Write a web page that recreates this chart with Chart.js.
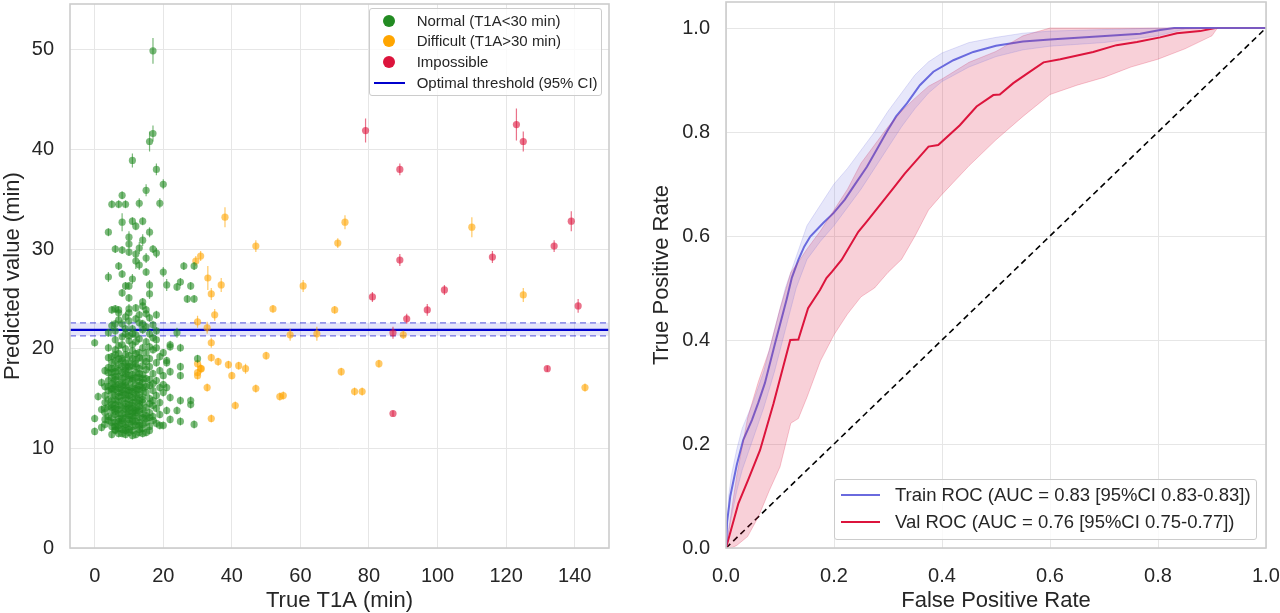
<!DOCTYPE html>
<html>
<head>
<meta charset="utf-8">
<title>T1A prediction and ROC</title>
<script src="https://cdn.jsdelivr.net/npm/chart.js@4.4.1/dist/chart.umd.min.js"></script>
<style>
  html, body { margin: 0; padding: 0; background: #fff; }
  body { width: 1280px; height: 613px; position: relative; overflow: hidden;
         font-family: "Liberation Sans", Arial, sans-serif; color: #262626; }
  canvas { position: absolute; top: 0; }
  #scatterChart { left: 0; }
  #rocChart { left: 640px; }
  .legend { position: absolute; box-sizing: border-box; background: rgba(255,255,255,0.8);
            border: 1px solid #cccccc; border-radius: 3px; }
  .legend .mark, .legend .label { position: absolute; }
  .legend .label { white-space: nowrap; }
</style>
</head>
<body>
<canvas id="scatterChart" width="640" height="613"></canvas>
<canvas id="rocChart" width="640" height="613"></canvas>
<div id="scatterLegend" class="legend" style="left:369px; top:8px; width:233px; height:88px; font-size:15px;"></div>
<div id="rocLegend" class="legend" style="left:834px; top:479px; width:423px; height:61px; font-size:18.5px;"></div>

<script>
// ───────────── data: left panel (true T1A vs predicted, [min, min, error]) ─────────────
const normalPoints = [
  [17,49.9,1.3],[17,41.6,0.8],[16,40.8,1.0],[11,38.9,0.7],[18,38.0,0.6],[20,36.5,0.5],[15,35.9,0.6],
  [8,35.4,0.4],[5,34.5,0.4],[7,34.5,0.4],[9,34.5,0.4],[13,34.6,0.5],[19,34.6,0.5],[8,32.7,0.9],
  [11,32.8,0.4],[14,32.8,0.4],[12,32.3,0.4],[4,31.7,0.4],[16,31.7,0.5],[10,31.2,0.6],[14,30.9,0.6],
  [10,30.5,0.4],[6,30.0,0.4],[8,29.9,0.4],[10,29.7,0.4],[13,30.1,0.6],[17,30.0,0.4],[18,29.6,0.5],
  [12,29.5,0.4],[15,29.1,0.5],[12,28.8,0.8],[13,28.4,0.5],[7,28.3,0.4],[20,27.7,0.5],[26,28.3,0.4],
  [29,28.3,0.4],[4,27.2,0.5],[8,27.5,0.4],[11,27.0,0.5],[15,27.7,0.4],[9,26.3,0.4],[10,26.3,0.4],
  [16,26.4,0.5],[21,26.4,0.6],[24,26.2,0.4],[25,26.7,0.4],[28,26.3,0.4],[8,25.6,0.4],[16,25.5,0.5],
  [10,25.1,0.4],[27,25.0,0.4],[29,25.0,0.4],[14,24.7,0.4],[6,24.0,0.4],[7,23.9,0.4],[10,24.0,0.5],
  [12,24.1,0.4],[15,23.9,0.4],[14,24.3,0.4],[5,23.9,0.4],[18,23.4,0.4],[7,23.6,0.4],[10,23.6,0.4],
  [15,23.5,0.4],
  [24,21.6,0.5],[0,20.6,0.4],[4,20.1,0.4],[4,21.6,0.4],[22,20.4,0.4],[25,20.1,0.4],[4,19.1,0.4],
  [4,18.1,0.4],[7,19.5,0.4],[11,19.8,0.4],[14,20.1,0.4],[17,19.9,0.4],[20,19.6,0.4],[21,18.6,0.4],
  [22,20.2,0.4],[30,19.0,0.4],[25,18.2,0.4],[25,17.3,0.4],[21,18.8,0.4],[22,17.7,0.4],[21,16.1,0.4],
  [19,16.1,0.4],[22,15.1,0.4],[25,14.8,0.4],[28,14.8,0.4],[28,14.4,0.4],[24,13.8,0.4],[21,13.8,0.4],
  [22,12.9,0.4],[25,12.7,0.4],[29,12.4,0.4],[20,12.3,0.4],[19,12.3,0.4],[15,11.6,0.4],[11,11.3,0.4],
  [9,11.4,0.4],[3,17.8,0.4],[2,16.6,0.4],[1,15.2,0.4],[0,13.0,0.4],[0,11.7,0.4],
  [5,22.3,0.5],[6,21.8,0.4],[8,22.5,0.5],[9,21.5,0.4],[10,22.8,0.6],[11,22.0,0.4],[12,21.4,0.4],
  [13,22.6,0.5],[14,21.9,0.4],[15,22.2,0.4],[16,21.5,0.4],[17,22.4,0.4],[18,21.8,0.4],[7,22.9,0.4],
  [9,23.2,0.5],[12,23.0,0.4],[16,23.1,0.4],[13,21.0,0.4],[8,21.2,0.4],[10,20.8,0.4],[6,20.9,0.4],
  [15,20.7,0.4],[18,20.9,0.4],[11,20.4,0.4],[7,20.3,0.4],
  [5,19.2,0.4],[6,18.8,0.4],[8,19.0,0.4],[9,18.6,0.4],[10,19.3,0.4],[12,18.9,0.4],[13,19.1,0.4],
  [15,18.7,0.4],[16,19.0,0.4],[18,18.6,0.4],[19,19.2,0.4],[6,19.9,0.4],[9,20.0,0.4],[12,19.5,0.4],
  [15,19.6,0.4],[18,20.1,0.4],
  [4,17.6,0.4],[5,18.0,0.4],[7,17.8,0.4],[8,18.2,0.4],[9,17.5,0.4],[10,17.9,0.4],[11,18.3,0.4],
  [12,17.6,0.4],[13,18.0,0.4],[14,17.4,0.4],[15,17.9,0.4],[16,18.2,0.4],[17,17.5,0.4],[19,17.8,0.4],
  [20,17.3,0.4],[6,17.2,0.4],
  [4,16.8,0.4],[5,16.5,0.4],[6,16.9,0.4],[7,16.4,0.4],[8,17.0,0.4],[9,16.6,0.4],[10,16.2,0.4],
  [11,16.8,0.4],[12,16.4,0.4],[13,17.1,0.4],[14,16.6,0.4],[15,16.2,0.4],[16,16.9,0.4],[17,16.5,0.4],
  [18,16.8,0.4],[20,16.4,0.4],[3,16.2,0.4],
  [3,15.3,0.4],[4,15.8,0.4],[5,15.5,0.4],[6,15.9,0.4],[7,15.2,0.4],[8,15.6,0.4],[9,15.9,0.4],
  [10,15.3,0.4],[11,15.7,0.4],[12,15.4,0.4],[13,15.9,0.4],[14,15.2,0.4],[15,15.6,0.4],[16,15.0,0.4],
  [17,15.8,0.4],[18,15.3,0.4],[20,15.6,0.4],[6,14.9,0.4],
  [3,14.6,0.4],[4,14.2,0.4],[5,14.8,0.4],[6,14.4,0.4],[7,14.7,0.4],[8,14.1,0.4],[9,14.5,0.4],
  [10,14.9,0.4],[11,14.3,0.4],[12,14.7,0.4],[13,14.2,0.4],[14,14.6,0.4],[15,14.1,0.4],[16,14.5,0.4],
  [17,14.3,0.4],[18,14.0,0.4],[19,14.6,0.4],[9,15.0,0.4],
  [3,13.6,0.4],[4,13.2,0.4],[5,13.8,0.4],[6,13.4,0.4],[7,13.0,0.4],[8,13.5,0.4],[9,13.1,0.4],
  [10,13.7,0.4],[11,13.3,0.4],[12,13.8,0.4],[13,13.1,0.4],[14,13.5,0.4],[15,13.0,0.4],[16,13.6,0.4],
  [17,13.2,0.4],[19,13.4,0.4],[2,13.9,0.4],
  [3,12.4,0.4],[4,12.8,0.4],[5,12.2,0.4],[6,12.6,0.4],[7,12.3,0.4],[8,12.8,0.4],[9,12.1,0.4],
  [10,12.5,0.4],[11,12.2,0.4],[12,12.7,0.4],[13,12.3,0.4],[14,12.0,0.4],[15,12.6,0.4],[16,12.2,0.4],
  [17,12.8,0.4],[18,12.5,0.4],[2,12.1,0.4],
  [6,11.8,0.4],[7,11.5,0.4],[8,11.9,0.4],[10,11.6,0.4],[12,11.4,0.4],[13,11.9,0.4],[14,11.5,0.4],
  [16,11.8,0.4],[5,11.4,0.4],
  [5,17.1,0.4],[6,16.2,0.4],[7,18.4,0.4],[8,16.6,0.4],[9,17.2,0.4],[10,18.6,0.4],[11,17.4,0.4],
  [12,16.0,0.4],[13,16.7,0.4],[14,18.3,0.4],[7,15.6,0.4],[8,14.8,0.4],[9,16.3,0.4],[10,14.4,0.4],
  [11,15.1,0.4],[12,14.0,0.4],[13,14.8,0.4],[14,15.9,0.4],[6,13.7,0.4],[7,13.9,0.4],[8,12.5,0.4],
  [9,13.9,0.4],[10,12.9,0.4],[11,14.6,0.4],[12,13.3,0.4],[13,12.6,0.4],[14,13.9,0.4],[8,17.6,0.4],
  [9,19.4,0.4],[10,16.9,0.4],[11,19.0,0.4],[12,18.2,0.4],[13,19.6,0.4],[7,19.0,0.4],[6,18.1,0.4],
  [5,16.0,0.4],[4,14.9,0.4],[5,13.1,0.4],[6,11.9,0.4],[9,11.8,0.4],[11,12.7,0.4],[15,13.3,0.4],
  [15,17.0,0.4],[16,16.3,0.4],[16,13.1,0.4],[17,14.8,0.4],[8,15.3,0.4],[10,15.8,0.4],[12,15.1,0.4],
  [13,15.4,0.4],[9,14.2,0.4],[11,13.6,0.4],[7,12.7,0.4],[10,17.3,0.4],[14,16.1,0.4],[6,15.3,0.4],
  [5,14.4,0.4],[4,16.2,0.4],[3,14.0,0.4],[3,12.9,0.4],[8,20.4,0.4],[10,21.3,0.4],[12,20.7,0.4],
  [14,22.5,0.4],[9,22.0,0.4],[13,23.4,0.4],[11,21.5,0.4],[6,22.5,0.4],[16,20.2,0.4],[17,21.1,0.4],
  [5,12.6,0.4],[5,14.1,0.4],[5,15.9,0.4],[5,17.6,0.4],[5,18.6,0.4],
  [6,12.2,0.4],[6,14.0,0.4],[6,16.5,0.4],[6,17.7,0.4],[6,19.4,0.4],
  [7,12.0,0.4],[7,13.5,0.4],[7,14.3,0.4],[7,16.0,0.4],[7,17.2,0.4],
  [8,11.5,0.4],[8,13.0,0.4],[8,15.9,0.4],[8,16.3,0.4],[8,18.8,0.4],
  [9,12.4,0.4],[9,13.5,0.4],[9,15.4,0.4],[9,17.9,0.4],[9,18.2,0.4],
  [10,11.9,0.4],[10,13.3,0.4],[10,14.0,0.4],[10,15.6,0.4],[10,18.2,0.4],
  [11,11.8,0.4],[11,12.9,0.4],[11,14.0,0.4],[11,16.1,0.4],[11,17.0,0.4],
  [12,12.3,0.4],[12,13.6,0.4],[12,15.8,0.4],[12,17.1,0.4],[12,18.5,0.4],
  [13,11.6,0.4],[13,13.8,0.4],[13,14.5,0.4],[13,16.3,0.4],[13,17.5,0.4],
  [14,12.4,0.4],[14,13.1,0.4],[14,14.9,0.4],[14,17.0,0.4],[14,19.0,0.4]
];

const difficultPoints = [
  [38,33.2,1.0],[47,30.3,0.6],[30.9,29.3,0.5],[29.5,28.8,0.5],[33,27.1,1.2],[36.9,26.4,0.7],
  [34,25.5,0.6],[35,23.4,0.6],[30,22.7,0.6],[32.8,22.1,0.6],[34,20.6,0.5],[34,19.1,0.4],
  [36,18.7,0.4],[39,18.4,0.4],[42,18.3,0.4],[44,18.0,0.5],[40,17.3,0.4],[30.9,18.0,0.5],
  [30,18.5,0.4],[30,17.6,0.4],[30,17.3,0.4],[31.1,18.0,0.4],[32.8,16.1,0.4],[47,16.0,0.4],
  [41,14.3,0.4],[34,13.0,0.4],[50,19.3,0.4],[52,24.0,0.4],[57,21.4,0.6],[54,15.2,0.4],
  [55,15.3,0.4],[60.8,26.3,0.6],[64.8,21.5,0.7],[70.9,30.6,0.5],[73,32.7,0.7],[70,23.9,0.4],
  [71.9,17.7,0.4],[75.8,15.7,0.4],[78,15.7,0.4],[82.9,18.5,0.4],[90,21.4,0.4],[110,32.2,1.0],
  [125,25.4,0.7],[143,16.1,0.4]
];

const impossiblePoints = [
  [79,41.9,1.2],[89,38.0,0.6],[123,42.5,1.6],[125,40.8,1.0],[81,25.2,0.5],[89,28.9,0.6],
  [87,21.6,0.6],[91,23.0,0.5],[87,13.5,0.3],[97,23.9,0.6],[102,25.9,0.5],[116,29.2,0.6],
  [132,18.0,0.3],[134,30.3,0.6],[139,32.8,1.0],[141,24.3,0.7]
];

const threshold = 21.9;
const thresholdCI = [21.3, 22.6];
const t1aTicks = [0, 20, 40, 60, 80, 100, 120, 140];
const predTicks = [0, 10, 20, 30, 40, 50];
const scatterLegendLabels = ['Normal (T1A<30 min)', 'Difficult (T1A>30 min)', 'Impossible', 'Optimal threshold (95% CI)'];

// ───────────── data: right panel (ROC curves) ─────────────
const trainFpr = [0,0.002,0.008,0.02,0.032,0.048,0.06,0.072,0.091,0.112,0.122,0.134,0.145,0.156,0.18,0.199,
  0.22,0.236,0.261,0.28,0.298,0.315,0.335,0.359,0.384,0.421,0.458,0.5,0.55,0.6,0.68,0.767,0.804,0.83,1.0];
const trainTpr = [0,0.05,0.1,0.16,0.208,0.246,0.28,0.317,0.394,0.477,0.52,0.554,0.58,0.599,0.625,0.644,
  0.67,0.695,0.733,0.768,0.801,0.83,0.855,0.89,0.916,0.938,0.954,0.966,0.974,0.978,0.983,0.989,0.996,1.0,1.0];

const valFpr = [0,0.023,0.041,0.063,0.088,0.119,0.134,0.152,0.174,0.186,0.196,0.214,0.245,0.261,0.31,0.331,
  0.375,0.393,0.433,0.464,0.495,0.507,0.532,0.563,0.588,0.619,0.68,0.723,0.761,0.804,0.835,0.878,0.906,1.0];
const valTpr = [0,0.086,0.131,0.188,0.278,0.4,0.401,0.461,0.496,0.519,0.531,0.554,0.608,0.628,0.692,0.72,
  0.772,0.775,0.813,0.849,0.871,0.872,0.894,0.916,0.934,0.94,0.954,0.967,0.973,0.982,0.99,0.994,1.0,1.0];

const trainBandFpr   = [0,0.005,0.01,0.02,0.03,0.05,0.07,0.09,0.11,0.13,0.15,0.175,0.2,0.225,0.25,0.275,
  0.3,0.325,0.35,0.375,0.4,0.45,0.5,0.55,0.6,0.7,0.8,0.85,0.9,1];
const trainBandUpper = [0,0.1,0.14,0.19,0.23,0.28,0.34,0.42,0.5,0.56,0.62,0.66,0.7,0.73,0.765,0.8,
  0.84,0.875,0.91,0.935,0.952,0.972,0.982,0.99,0.994,0.997,1,1,1,1];
const trainBandLower = [0,0.03,0.06,0.11,0.15,0.21,0.27,0.34,0.42,0.5,0.555,0.59,0.62,0.655,0.69,0.73,
  0.77,0.81,0.845,0.875,0.897,0.925,0.945,0.958,0.965,0.972,0.985,0.998,1,1];

const valBandFpr   = [0,0.01,0.02,0.04,0.06,0.08,0.1,0.12,0.134,0.15,0.175,0.2,0.225,0.25,0.275,0.3,
  0.325,0.35,0.375,0.4,0.45,0.5,0.55,0.6,0.65,0.7,0.75,0.8,0.85,0.9,0.91,1];
const valBandUpper = [0,0.07,0.14,0.25,0.32,0.38,0.46,0.53,0.55,0.575,0.61,0.65,0.69,0.74,0.775,0.81,
  0.84,0.865,0.888,0.902,0.934,0.955,0.985,1,1,1,1,1,1,1,1,1];
const valBandLower = [0,0,0.005,0.022,0.06,0.11,0.156,0.24,0.249,0.29,0.36,0.41,0.45,0.483,0.5,0.53,
  0.555,0.6,0.65,0.68,0.735,0.785,0.83,0.872,0.89,0.905,0.925,0.94,0.96,0.985,1,1];

const chanceLine = [0, 1];
const rateTicks = [0, 0.2, 0.4, 0.6, 0.8, 1.0];
const rocLegendLabels = ['Train ROC (AUC = 0.83 [95%CI 0.83-0.83])', 'Val ROC (AUC = 0.76 [95%CI 0.75-0.77])'];

// ───────────── styling ─────────────
const FONT = '"Liberation Sans", Arial, sans-serif';
const TEXT = '#262626';
const GRID = '#e6e6e6';
const GREEN = '34,139,34', ORANGE = '255,165,0', RED = '220,20,60';
const TRAIN = '106,106,222', THRESH = '0,0,205';

// light-grey box round the plot area, like the seaborn spines
const frame = {
  id: 'frame',
  afterDatasetsDraw(chart) {
    const { ctx, chartArea: a } = chart;
    ctx.save();
    ctx.strokeStyle = '#cccccc';
    ctx.lineWidth = 1.6;
    ctx.strokeRect(a.left, a.top, a.right - a.left, a.bottom - a.top);
    ctx.restore();
  }
};

function axis(min, max, ticks, fmt, title, fixSize, titlePad) {
  return {
    type: 'linear', min, max,
    afterBuildTicks: s => { s.ticks = ticks.map(v => ({ value: v })); },
    afterFit: s => {
      fixSize(s);
      // the plot box is placed by hand, so no extra room for edge labels
      s.paddingTop = 0; s.paddingBottom = 0; s.paddingLeft = 0; s.paddingRight = 0;
    },
    grid: { color: GRID, lineWidth: 1, drawTicks: false },
    border: { display: false },
    ticks: { padding: 16, color: TEXT, font: { size: 20, family: FONT }, callback: fmt },
    title: { display: true, text: title, color: TEXT, padding: titlePad,
             font: { size: 22, family: FONT, lineHeight: 1 } }
  };
}

const zip = (xs, ys) => xs.map((x, i) => ({ x, y: ys[i] }));

function errorBars(points) {
  const out = [];
  points.forEach(p => {
    out.push({ x: p[0], y: p[1] - p[2] }, { x: p[0], y: p[1] + p[2] }, { x: p[0], y: null });
  });
  return out;
}

function groupSets(points, rgb) {
  return [
    { type: 'line', data: errorBars(points), borderColor: `rgba(${rgb},0.6)`, borderWidth: 1.2,
      pointRadius: 0, spanGaps: false, fill: false },
    { type: 'scatter', data: points.map(p => ({ x: p[0], y: p[1] })), pointRadius: 3.6,
      backgroundColor: `rgba(${rgb},0.6)`, borderWidth: 0 }
  ];
}

// ───────────── left chart ─────────────
const T1A_MIN = -7.2, T1A_MAX = 150;
const bandEnds = [T1A_MIN, T1A_MAX];

new Chart(document.getElementById('scatterChart').getContext('2d'), {
  type: 'scatter',
  data: {
    datasets: [
      ...groupSets(normalPoints, GREEN),
      ...groupSets(difficultPoints, ORANGE),
      ...groupSets(impossiblePoints, RED),
      { type: 'line', data: bandEnds.map(x => ({ x, y: thresholdCI[1] })), fill: '+1',
        backgroundColor: `rgba(${THRESH},0.10)`, borderColor: `rgba(${THRESH},0.55)`,
        borderWidth: 1.2, borderDash: [6, 4], pointRadius: 0 },
      { type: 'line', data: bandEnds.map(x => ({ x, y: thresholdCI[0] })), fill: false,
        borderColor: `rgba(${THRESH},0.55)`, borderWidth: 1.2, borderDash: [6, 4], pointRadius: 0 },
      { type: 'line', data: bandEnds.map(x => ({ x, y: threshold })), fill: false,
        borderColor: `rgb(${THRESH})`, borderWidth: 2.2, pointRadius: 0 }
    ]
  },
  options: {
    responsive: false, animation: false, events: [],
    layout: { padding: { left: 0, right: 31, top: 2, bottom: 0 } },
    plugins: { legend: { display: false }, tooltip: { enabled: false } },
    scales: {
      x: axis(T1A_MIN, T1A_MAX, t1aTicks, v => String(v), 'True T1A (min)',
              s => { s.height = 65; }, { top: 0, bottom: 1 }),
      y: axis(0, 54.6, predTicks, v => String(v), 'Predicted value (min)',
              s => { s.width = 70; }, { top: 2, bottom: 0 })
    }
  },
  plugins: [frame]
});

// ───────────── right chart ─────────────
const lineOpts = { pointRadius: 0, tension: 0 };

new Chart(document.getElementById('rocChart').getContext('2d'), {
  type: 'line',
  data: {
    datasets: [
      { ...lineOpts, data: zip(trainBandFpr, trainBandUpper), fill: '+1',
        backgroundColor: `rgba(${TRAIN},0.16)`, borderColor: `rgba(${TRAIN},0.2)`, borderWidth: 1 },
      { ...lineOpts, data: zip(trainBandFpr, trainBandLower), fill: false,
        borderColor: `rgba(${TRAIN},0.2)`, borderWidth: 1 },
      { ...lineOpts, data: zip(valBandFpr, valBandUpper), fill: '+1',
        backgroundColor: `rgba(${RED},0.2)`, borderColor: `rgba(${RED},0.22)`, borderWidth: 1 },
      { ...lineOpts, data: zip(valBandFpr, valBandLower), fill: false,
        borderColor: `rgba(${RED},0.22)`, borderWidth: 1 },
      { ...lineOpts, data: zip(trainFpr, trainTpr), fill: false,
        borderColor: `rgb(${TRAIN})`, borderWidth: 2 },
      { ...lineOpts, data: zip(valFpr, valTpr), fill: false,
        borderColor: `rgb(${RED})`, borderWidth: 2 },
      { ...lineOpts, data: zip(chanceLine, chanceLine), fill: false,
        borderColor: '#000000', borderWidth: 1.6, borderDash: [6, 4] }
    ]
  },
  options: {
    responsive: false, animation: false, events: [],
    layout: { padding: { left: 0, right: 14, top: 2, bottom: 0 } },
    plugins: { legend: { display: false }, tooltip: { enabled: false } },
    scales: {
      x: axis(0, 1, rateTicks, v => v.toFixed(1), 'False Positive Rate',
              s => { s.height = 65; }, { top: 0, bottom: 1 }),
      y: axis(0, 1.05, rateTicks, v => v.toFixed(1), 'True Positive Rate',
              s => { s.width = 86; }, { top: 11, bottom: 0 })
    }
  },
  plugins: [frame]
});

// ───────────── legends ─────────────
function fillLegend(el, labels, marks, colors, geo) {
  labels.forEach((label, i) => {
    const cy = geo.firstRow + i * geo.rowGap;
    const m = document.createElement('div');
    m.className = 'mark';
    if (marks[i] === 'dot') {
      m.style.cssText = `left:${geo.dotX - 6}px;top:${cy - 6}px;width:12px;height:12px;border-radius:50%;background:${colors[i]}`;
    } else {
      m.style.cssText = `left:${geo.lineX0}px;top:${cy - 1}px;width:${geo.lineX1 - geo.lineX0}px;height:2px;background:${colors[i]}`;
    }
    el.appendChild(m);
    const t = document.createElement('div');
    t.className = 'label';
    t.textContent = label;
    t.style.cssText = `left:${geo.textX}px;top:${cy - geo.lh / 2}px;line-height:${geo.lh}px`;
    el.appendChild(t);
  });
}

fillLegend(document.getElementById('scatterLegend'), scatterLegendLabels,
  ['dot', 'dot', 'dot', 'line'],
  [`rgb(${GREEN})`, `rgb(${ORANGE})`, `rgb(${RED})`, `rgb(${THRESH})`],
  { firstRow: 11.7, rowGap: 20.7, dotX: 19.3, lineX0: 4, lineX1: 35, textX: 46.7, lh: 18 });

fillLegend(document.getElementById('rocLegend'), rocLegendLabels,
  ['line', 'line'],
  [`rgb(${TRAIN})`, `rgb(${RED})`],
  { firstRow: 15, rowGap: 26.5, lineX0: 6, lineX1: 45, textX: 60, lh: 22 });
</script>
</body>
</html>
